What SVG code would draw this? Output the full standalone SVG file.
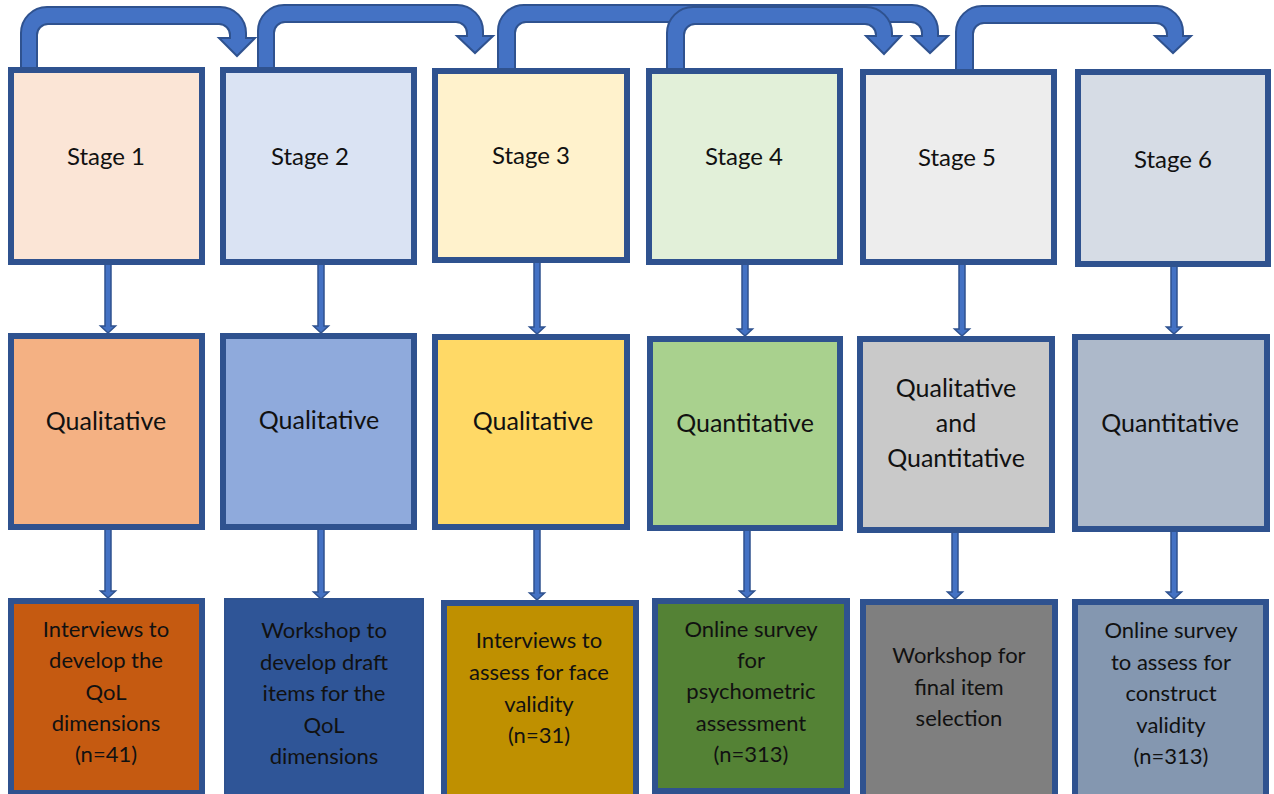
<svg xmlns="http://www.w3.org/2000/svg" width="1274" height="794" viewBox="0 0 1274 794">
  <style>
    .box { stroke: #2F528F; stroke-width: 6; }
    .lbl { font-family: Lato, "Liberation Sans", sans-serif; font-size: 24px; fill: #111; text-anchor: middle; }
    .md { font-size: 25px; }
    .sm { font-size: 22px; }
    .uturn { fill: #4472C4; stroke: #2F528F; stroke-width: 2; stroke-linejoin: miter; }
    .down { fill: #4472C4; stroke: #2F528F; stroke-width: 1.5; }
  </style>
  <rect width="1274" height="794" fill="#FFFFFF"/>

  <!-- U-turn arrows linking consecutive stages -->
  <g id="connectors-top">
    <path class="uturn" d="M21,72 L21,33 A26,26 0 0 1 47,7 L220,7 A26,26 0 0 1 246,33 L246,38 L255,38 L237,56 L219,38 L230,38 L230,35 A11,11 0 0 0 219,24 L48,24 A11,11 0 0 0 37,35 L37,72 Z"/>
    <path class="uturn" d="M258,72 L258,31 A26,26 0 0 1 284,5 L457,5 A26,26 0 0 1 483,31 L483,36 L493,36 L475,53 L457,36 L467,36 L467,33 A11,11 0 0 0 456,22 L285,22 A11,11 0 0 0 274,33 L274,72 Z"/>
    <path class="uturn" d="M498,72 L498,31 A26,26 0 0 1 524,5 L912,5 A26,26 0 0 1 938,31 L938,36 L948,36 L930,53 L912,36 L922,36 L922,33 A11,11 0 0 0 911,22 L526,22 A11,11 0 0 0 515,33 L515,72 Z"/>
    <path class="uturn" d="M667,72 L667,33 A26,26 0 0 1 693,7 L866,7 A26,26 0 0 1 892,33 L892,36 L901,36 L884,54 L866,36 L876,36 L876,35 A11,11 0 0 0 865,24 L695,24 A11,11 0 0 0 684,35 L684,72 Z"/>
    <path class="uturn" d="M956,74 L956,32 A26,26 0 0 1 982,6 L1157,6 A26,26 0 0 1 1183,32 L1183,36 L1191,36 L1173,53 L1155,36 L1167,36 L1167,34 A11,11 0 0 0 1156,23 L984,23 A11,11 0 0 0 973,34 L973,74 Z"/>
  </g>

  <!-- downward arrows between rows -->
  <g id="connectors-down">
    <path class="down" d="M105,262 L111,262 L111,326 L115.5,326 L108,333 L100.5,326 L105,326 Z"/>
    <path class="down" d="M318,262 L324,262 L324,326 L328.5,326 L321,333 L313.5,326 L318,326 Z"/>
    <path class="down" d="M534,260 L540,260 L540,327 L544.5,327 L537,334 L529.5,327 L534,327 Z"/>
    <path class="down" d="M742,262 L748,262 L748,329 L752.5,329 L745,336 L737.5,329 L742,329 Z"/>
    <path class="down" d="M959,262 L965,262 L965,329 L969.5,329 L962,336 L954.5,329 L959,329 Z"/>
    <path class="down" d="M1171,264 L1177,264 L1177,327 L1181.5,327 L1174,334 L1166.5,327 L1171,327 Z"/>

    <path class="down" d="M105,527 L111,527 L111,591 L115.5,591 L108,598 L100.5,591 L105,591 Z"/>
    <path class="down" d="M318,527 L324,527 L324,592 L328.5,592 L321,599 L313.5,592 L318,592 Z"/>
    <path class="down" d="M534,527 L540,527 L540,593 L544.5,593 L537,600 L529.5,593 L534,593 Z"/>
    <path class="down" d="M744,528 L750,528 L750,591 L754.5,591 L747,598 L739.5,591 L744,591 Z"/>
    <path class="down" d="M952,530 L958,530 L958,592 L962.5,592 L955,599 L947.5,592 L952,592 Z"/>
    <path class="down" d="M1171,529 L1177,529 L1177,592 L1181.5,592 L1174,599 L1166.5,592 L1171,592 Z"/>
  </g>

  <!-- Stage row -->
  <g id="stage1"><rect class="box" x="11" y="70" width="191" height="192" fill="#FBE5D6"/><text class="lbl" x="106" y="165">Stage 1</text></g>
  <g id="stage2"><rect class="box" x="223" y="70" width="191" height="192" fill="#DAE3F3"/><text class="lbl" x="310" y="165">Stage 2</text></g>
  <g id="stage3"><rect class="box" x="435" y="71" width="192" height="189" fill="#FFF2CC"/><text class="lbl" x="531" y="164">Stage 3</text></g>
  <g id="stage4"><rect class="box" x="649" y="71" width="191" height="191" fill="#E2F0D9"/><text class="lbl" x="744" y="165">Stage 4</text></g>
  <g id="stage5"><rect class="box" x="863" y="72" width="191" height="190" fill="#EDEDED"/><text class="lbl" x="957" y="166">Stage 5</text></g>
  <g id="stage6"><rect class="box" x="1078" y="72" width="190" height="192" fill="#D6DCE5"/><text class="lbl" x="1173" y="168">Stage 6</text></g>

  <!-- Method row -->
  <g id="method1"><rect class="box" x="11" y="336" width="191" height="191" fill="#F4B183"/><text class="lbl md" x="106" y="430">Qualitative</text></g>
  <g id="method2"><rect class="box" x="223" y="336" width="191" height="191" fill="#8FAADC"/><text class="lbl md" x="319" y="429">Qualitative</text></g>
  <g id="method3"><rect class="box" x="435" y="337" width="192" height="190" fill="#FFD966"/><text class="lbl md" x="533" y="430">Qualitative</text></g>
  <g id="method4"><rect class="box" x="650" y="339" width="190" height="189" fill="#A9D18E"/><text class="lbl md" x="745" y="432">Quantitative</text></g>
  <g id="method5"><rect class="box" x="860" y="339" width="192" height="191" fill="#C9C9C9"/>
    <text class="lbl md" x="956" y="397">Qualitative</text>
    <text class="lbl md" x="956" y="432">and</text>
    <text class="lbl md" x="956" y="467">Quantitative</text>
  </g>
  <g id="method6"><rect class="box" x="1075" y="337" width="192" height="192" fill="#ADB9CA"/><text class="lbl md" x="1170" y="432">Quantitative</text></g>

  <!-- Activity row -->
  <g id="activity1"><rect class="box" x="11" y="601" width="191" height="192" fill="#C55A11"/>
    <text class="lbl sm" x="106" y="637">Interviews to</text>
    <text class="lbl sm" x="106" y="668">develop the</text>
    <text class="lbl sm" x="106" y="700">QoL</text>
    <text class="lbl sm" x="106" y="731">dimensions</text>
    <text class="lbl sm" x="106" y="762">(n=41)</text>
  </g>
  <g id="activity2"><rect x="225" y="599" width="198" height="200" fill="#2F5597" stroke="#2F528F" stroke-width="2"/>
    <text class="lbl sm" x="324" y="638">Workshop to</text>
    <text class="lbl sm" x="324" y="670">develop draft</text>
    <text class="lbl sm" x="324" y="701">items for the</text>
    <text class="lbl sm" x="324" y="733">QoL</text>
    <text class="lbl sm" x="324" y="764">dimensions</text>
  </g>
  <g id="activity3"><rect class="box" x="444" y="603" width="192" height="196" fill="#BF9000"/>
    <text class="lbl sm" x="539" y="648">Interviews to</text>
    <text class="lbl sm" x="539" y="680">assess for face</text>
    <text class="lbl sm" x="539" y="712">validity</text>
    <text class="lbl sm" x="539" y="743">(n=31)</text>
  </g>
  <g id="activity4"><rect class="box" x="655" y="601" width="192" height="190" fill="#548235"/>
    <text class="lbl sm" x="751" y="637">Online survey</text>
    <text class="lbl sm" x="751" y="668">for</text>
    <text class="lbl sm" x="751" y="699">psychometric</text>
    <text class="lbl sm" x="751" y="731">assessment</text>
    <text class="lbl sm" x="751" y="762">(n=313)</text>
  </g>
  <g id="activity5"><rect class="box" x="863" y="602" width="192" height="196" fill="#7F7F7F"/>
    <text class="lbl sm" x="959" y="663">Workshop for</text>
    <text class="lbl sm" x="959" y="695">final item</text>
    <text class="lbl sm" x="959" y="726">selection</text>
  </g>
  <g id="activity6"><rect class="box" x="1075" y="602" width="191" height="196" fill="#8497B0"/>
    <text class="lbl sm" x="1171" y="638">Online survey</text>
    <text class="lbl sm" x="1171" y="670">to assess for</text>
    <text class="lbl sm" x="1171" y="701">construct</text>
    <text class="lbl sm" x="1171" y="733">validity</text>
    <text class="lbl sm" x="1171" y="764">(n=313)</text>
  </g>
</svg>
